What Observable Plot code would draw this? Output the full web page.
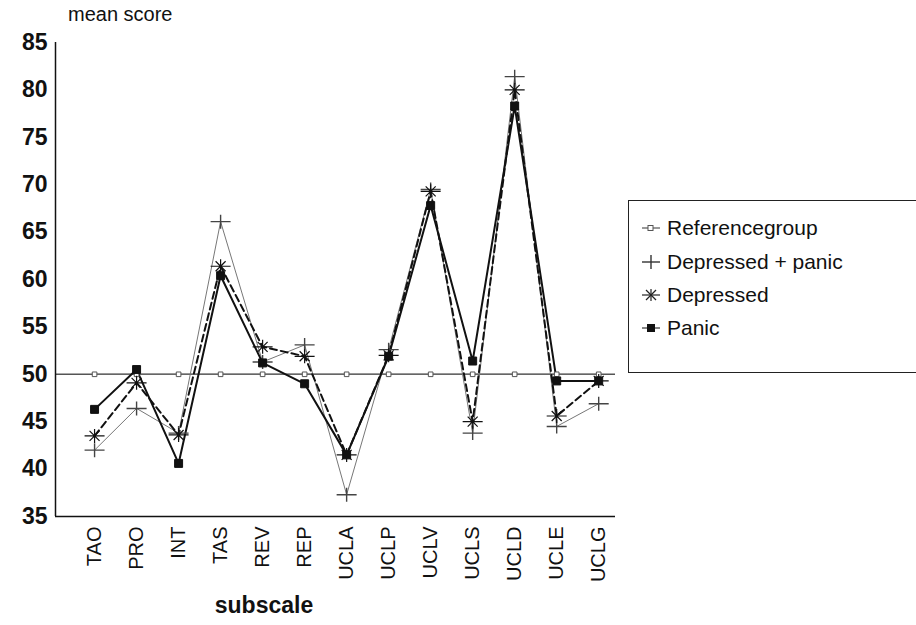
<!DOCTYPE html>
<html>
<head>
<meta charset="utf-8">
<script src="https://cdn.jsdelivr.net/npm/d3@7"></script>
<script src="https://cdn.jsdelivr.net/npm/@observablehq/plot@0.6"></script>
<style>
  html, body { margin: 0; padding: 0; background: #fff; }
  #wrap { position: relative; width: 916px; height: 625px; font-family: "Liberation Sans", Arial, sans-serif; color: #111; }
  #ylab { position: absolute; left: 68px; top: 3px; font-size: 20px; }
  #xlab { position: absolute; left: 264px; top: 592px; transform: translateX(-50%); font-size: 23px; font-weight: bold; }
  #legend { position: absolute; left: 628px; top: 200px; width: 300px; height: 173px; border: 1.5px solid #222; border-right: none; box-sizing: border-box; }
  .item { position: absolute; left: 12px; display: flex; align-items: center; font-size: 21px; }
  .item svg { margin-right: 4px; }
</style>
</head>
<body>
<div id="wrap">
  <div id="chart"></div>
  <div id="ylab">mean score</div>
  <div id="xlab">subscale</div>
  <div id="legend"></div>
</div>
<script>
const categories = ["TAO","PRO","INT","TAS","REV","REP","UCLA","UCLP","UCLV","UCLS","UCLD","UCLE","UCLG"];
const yTicks = [35,40,45,50,55,60,65,70,75,80,85];
const groups = ["Referencegroup","Depressed + panic","Depressed","Panic"];
const reference = [50,50,50,50,50,50,50,50,50,50,50,50,50];
const depPanic  = [42.0,46.4,43.8,66.1,51.3,53.1,37.3,52.6,69.5,43.8,81.4,44.5,46.9];
const depressed = [43.5,49.1,43.6,61.4,52.9,51.9,41.5,52.0,69.3,45.0,80.0,45.6,49.3];
const panic     = [46.3,50.5,40.6,60.4,51.2,49.0,41.5,51.9,67.8,51.4,78.3,49.3,49.3];

const series = [reference, depPanic, depressed, panic];
const rows = [];
series.forEach((vals, g) => vals.forEach((v, i) => rows.push({group: groups[g], i, value: v})));
const of = g => rows.filter(d => d.group === g);

const plusSym = {draw(c){ c.moveTo(-10,0); c.lineTo(10,0); c.moveTo(0,-7); c.lineTo(0,7); }};
const starSym = {draw(c){ c.moveTo(-10,0); c.lineTo(10,0); c.moveTo(0,-7); c.lineTo(0,7);
  c.moveTo(-5,-5); c.lineTo(5,5); c.moveTo(-5,5); c.lineTo(5,-5); }};

const chart = Plot.plot({
  width: 916, height: 625,
  marginLeft: 55, marginRight: 301, marginTop: 42, marginBottom: 109,
  style: {fontFamily: '"Liberation Sans", Arial, sans-serif', background: "white", color: "#111"},
  x: {domain: [-0.93, 12.4], ticks: d3.range(categories.length), tickFormat: i => categories[i], label: null},
  y: {domain: [35, 85], ticks: yTicks, label: null},
  marks: [
    Plot.axisY({ticks: yTicks, tickSize: 0, tickPadding: 8, fontSize: 23, fontWeight: "bold", label: null}),
    Plot.axisX({ticks: d3.range(categories.length), tickFormat: i => categories[i], tickSize: 0, tickPadding: 10, tickRotate: -90, fontSize: 20, label: null}),
    Plot.ruleY([50], {stroke: "#555", strokeWidth: 1.5}),
    Plot.line(of("Referencegroup"), {x: "i", y: "value", stroke: "#666", strokeWidth: 1.3}),
    Plot.line(of("Depressed + panic"), {x: "i", y: "value", stroke: "#777", strokeWidth: 1}),
    Plot.line(of("Depressed"), {x: "i", y: "value", stroke: "#111", strokeWidth: 2, strokeDasharray: "7,4"}),
    Plot.line(of("Panic"), {x: "i", y: "value", stroke: "#111", strokeWidth: 2}),
    Plot.dot(of("Referencegroup"), {x: "i", y: "value", symbol: "square", r: 2.6, fill: "white", stroke: "#555", strokeWidth: 1}),
    Plot.dot(of("Depressed + panic"), {x: "i", y: "value", symbol: plusSym, fill: "none", stroke: "#444", strokeWidth: 1.4}),
    Plot.dot(of("Depressed"), {x: "i", y: "value", symbol: starSym, fill: "none", stroke: "#111", strokeWidth: 1.2}),
    Plot.dot(of("Panic"), {x: "i", y: "value", symbol: "square", r: 4.5, fill: "#111", stroke: "#111", strokeWidth: 1}),
    Plot.ruleX([-0.93], {stroke: "#111", strokeWidth: 1.5}),
    Plot.ruleY([35], {stroke: "#111", strokeWidth: 1.5})
  ]
});
document.getElementById("chart").appendChild(chart);

// legend
const legend = document.getElementById("legend");
const glyphs = {
  "Referencegroup": '<line x1="1" y1="8" x2="19" y2="8" stroke="#555" stroke-width="1.2"/><rect x="7" y="5.5" width="5" height="5" fill="white" stroke="#555"/>',
  "Depressed + panic": '<line x1="1" y1="8" x2="19" y2="8" stroke="#333" stroke-width="1.4"/><line x1="10" y1="1" x2="10" y2="15" stroke="#333" stroke-width="1.4"/>',
  "Depressed": '<line x1="1" y1="8" x2="19" y2="8" stroke="#222" stroke-width="1.2"/><line x1="10" y1="2" x2="10" y2="14" stroke="#222" stroke-width="1.2"/><line x1="5" y1="3" x2="15" y2="13" stroke="#222" stroke-width="1.2"/><line x1="5" y1="13" x2="15" y2="3" stroke="#222" stroke-width="1.2"/>',
  "Panic": '<line x1="1" y1="8" x2="19" y2="8" stroke="#333" stroke-width="1.2"/><rect x="6" y="4" width="8" height="8" fill="#111"/>'
};
const legendTops = [15, 49, 82, 115];
groups.forEach((g, k) => {
  const d = document.createElement("div");
  d.className = "item";
  d.style.top = legendTops[k] + "px";
  d.innerHTML = '<svg width="22" height="16">' + glyphs[g] + '</svg><span>' + g + '</span>';
  legend.appendChild(d);
});
</script>
</body>
</html>
